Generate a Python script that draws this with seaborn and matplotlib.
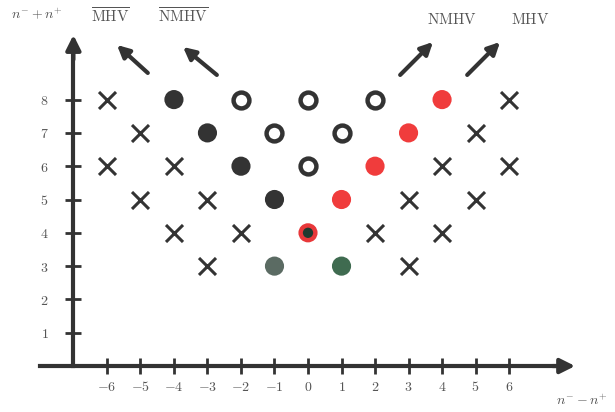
import matplotlib
matplotlib.use('Agg')
import matplotlib.pyplot as plt
import pandas as pd
import seaborn as sns

# helicity grid: x = n- - n+, y = n- + n+
cross_x = [-6, 6, -5, 5, -6, -4, 4, 6, -5, -3, 3, 5, -4, -2, 2, 4, -3, 3]
cross_y = [8, 8, 7, 7, 6, 6, 6, 6, 5, 5, 5, 5, 4, 4, 4, 4, 3, 3]
black_x = [-4, -3, -2, -1]
black_y = [8, 7, 6, 5]
open_x = [-2, 0, 2, -1, 1, 0]
open_y = [8, 8, 8, 7, 7, 6]
red_x = [4, 3, 2, 1]
red_y = [8, 7, 6, 5]
mixed_x = [0]
mixed_y = [4]
green_x = [-1, 1]
green_y = [3, 3]
green_colors = ['#5b6b63', '#3f6b50']

x_ticks = [-6, -5, -4, -3, -2, -1, 0, 1, 2, 3, 4, 5, 6]
y_ticks = [1, 2, 3, 4, 5, 6, 7, 8]

sns.set_style('white')
plt.rcParams['font.family'] = ['DejaVu Serif']
plt.rcParams['mathtext.fontset'] = 'cm'

fig = plt.figure(figsize=(6.15, 4.12), dpi=100)
ax = fig.add_axes([0, 0, 1, 1])
ax.set_xlim(-9.19, 9.16)
ax.set_ylim(-1.38, 10.99)

dark = '#333333'
ms = 190

sns.scatterplot(x=cross_x, y=cross_y, marker='x', s=150, color=dark, linewidth=2.2, ax=ax, zorder=3)
sns.scatterplot(x=black_x, y=black_y, marker='o', s=ms, color=dark, edgecolor='none', ax=ax, zorder=3)
sns.scatterplot(x=open_x, y=open_y, marker='o', s=130, facecolor='white', edgecolor=dark, linewidth=3.2, ax=ax, zorder=3)
sns.scatterplot(x=red_x, y=red_y, marker='o', s=ms, color='#f03c3c', edgecolor='none', ax=ax, zorder=3)
sns.scatterplot(x=mixed_x, y=mixed_y, marker='o', s=ms, color='#e8383a', edgecolor='none', ax=ax, zorder=3)
sns.scatterplot(x=mixed_x, y=mixed_y, marker='o', s=55, color='#1f3a30', edgecolor='none', ax=ax, zorder=4)
df_g = pd.DataFrame({'x': green_x, 'y': green_y, 'c': ['a', 'b']})
sns.scatterplot(data=df_g, x='x', y='y', hue='c', palette=green_colors, marker='o', s=ms,
                edgecolor='none', legend=False, ax=ax, zorder=3)
ax.set_xlabel('')
ax.set_ylabel('')

# axes with arrow heads
for s in ['top', 'right']:
    ax.spines[s].set_visible(False)
ax.spines['left'].set_position(('data', -7))
ax.spines['bottom'].set_position(('data', 0))
ax.spines['left'].set_bounds(0, 9.5)
ax.spines['bottom'].set_bounds(-8, 7.6)
for s in ['left', 'bottom']:
    ax.spines[s].set_linewidth(3)
    ax.spines[s].set_color(dark)
ax.annotate('', xy=(7.97, 0), xytext=(7.3, 0),
            arrowprops=dict(arrowstyle='-|>', lw=3, color=dark, mutation_scale=22, shrinkA=0, shrinkB=0))
ax.annotate('', xy=(-7, 9.94), xytext=(-7, 9.2),
            arrowprops=dict(arrowstyle='-|>', lw=3, color=dark, mutation_scale=22, shrinkA=0, shrinkB=0))

ax.set_xticks(x_ticks)
ax.set_xticklabels([f'${t}$' for t in x_ticks])
ax.set_yticks(y_ticks)
ax.set_yticklabels([f'${t}$' for t in y_ticks])
ax.tick_params(axis='both', bottom=True, left=True, direction='inout', length=12, width=2,
               color=dark, labelsize=10, labelcolor='#555555')
ax.tick_params(axis='x', pad=4)
ax.tick_params(axis='y', pad=12)

ax.text(-8.85, 10.55, r'$n^{-}+n^{+}$', fontsize=10, color='#555555', ha='left', va='center')
ax.text(8.95, -1.05, r'$n^{-}-n^{+}$', fontsize=10, color='#555555', ha='right', va='center')

# helicity labels and arrows
arrows = [((-4.78, 8.8), (-5.7, 9.64)), ((-2.72, 8.74), (-3.73, 9.58)),
          ((2.75, 8.74), (3.73, 9.73)), ((4.75, 8.74), (5.73, 9.73))]
labels = [r'$\overline{\mathrm{MHV}}$', r'$\overline{\mathrm{NMHV}}$', r'$\mathrm{NMHV}$', r'$\mathrm{MHV}$']
label_pos = [(-5.9, 10.5), (-3.73, 10.5), (4.3, 10.4), (6.63, 10.4)]
for (tail, tip), lab, pos in zip(arrows, labels, label_pos):
    ax.annotate('', xy=tip, xytext=tail,
                arrowprops=dict(arrowstyle='-|>', lw=3, color=dark, mutation_scale=18, shrinkA=0, shrinkB=0))
    ax.text(pos[0], pos[1], lab, fontsize=11, color='#555555', ha='center', va='center')

plt.savefig('out.png', dpi=100)
